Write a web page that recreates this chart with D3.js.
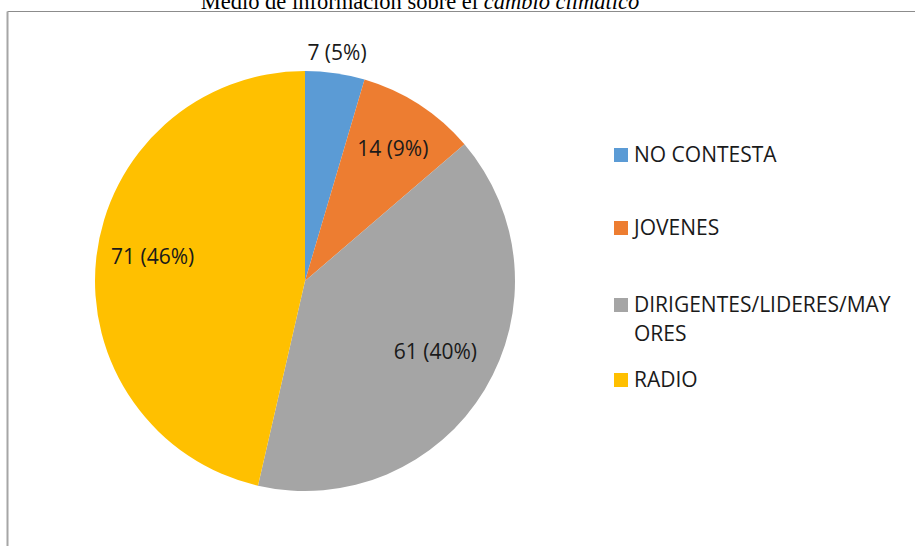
<!DOCTYPE html>
<html>
<head>
<meta charset="utf-8">
<script src="https://cdn.jsdelivr.net/npm/d3@7"></script>
<style>
  body { margin: 0; background: #fff; }
  svg { display: block; }
</style>
</head>
<body>
<div id="chart"></div>
<script>
// chart size
var width = 915;
var height = 546;

// data
var categories = ["NO CONTESTA", "JOVENES", "DIRIGENTES/LIDERES/MAYORES", "RADIO"];
var counts = [7, 14, 61, 71];
var percents = ["5%", "9%", "40%", "46%"];
var colors = ["#5b9bd5", "#ed7d31", "#a5a5a5", "#ffc000"];

var svg = d3.select("#chart")
  .append("svg")
  .attr("width", width)
  .attr("height", height);

// frame (top and left edges only are visible)
svg.append("line")
  .attr("x1", 7.5).attr("y1", 11.5).attr("x2", width).attr("y2", 11.5)
  .attr("stroke", "#8c8c8c").attr("stroke-width", 1);
svg.append("line")
  .attr("x1", 7.5).attr("y1", 11.5).attr("x2", 7.5).attr("y2", height)
  .attr("stroke", "#a6a6a6").attr("stroke-width", 2);

// title, partly cut off at the top as in the original
var title = svg.append("text")
  .attr("x", 420)
  .attr("y", 9)
  .attr("text-anchor", "middle")
  .attr("font-family", "Liberation Serif, serif")
  .attr("font-size", 22.5)
  .attr("fill", "#000");
title.append("tspan").text("Medio de información sobre el ");
title.append("tspan").attr("font-style", "italic").text("cambio climático");

// pie
var cx = 305, cy = 281, radius = 210;
var pie = d3.pie().sort(null).value(function(d) { return d; });
var arcs = pie(counts);
var arc = d3.arc().innerRadius(0).outerRadius(radius);

var g = svg.append("g").attr("transform", "translate(" + cx + "," + cy + ")");

g.selectAll("path")
  .data(arcs)
  .enter()
  .append("path")
  .attr("d", arc)
  .attr("fill", function(d, i) { return colors[i]; });

// data labels: radius factor along the slice bisector, plus a nudge
var labelPos = [
  {r: 1.08, dx: 0, dy: -1},
  {r: 0.62, dx: 17, dy: -24},
  {r: 0.72, dx: 1, dy: -8},
  {r: 0.73, dx: 0, dy: -8}
];
g.selectAll("text.lbl")
  .data(arcs)
  .enter()
  .append("text")
  .attr("class", "lbl")
  .text(function(d, i) { return counts[i] + " (" + percents[i] + ")"; })
  .attr("font-family", "Open Sans, sans-serif")
  .attr("font-size", 21)
  .attr("fill", "#1a1a1a")
  .attr("text-anchor", "middle")
  .attr("dominant-baseline", "central")
  .attr("transform", function(d, i) {
    var a = (d.startAngle + d.endAngle) / 2;
    var r = radius * labelPos[i].r;
    var x = Math.sin(a) * r + labelPos[i].dx;
    var y = -Math.cos(a) * r + labelPos[i].dy;
    if (i === 0) { x = 32; y = -229; }
    return "translate(" + x + "," + y + ")";
  });

// legend
var legendRows = [
  {lines: ["NO CONTESTA"], y: 155},
  {lines: ["JOVENES"], y: 228},
  {lines: ["DIRIGENTES/LIDERES/MAY", "ORES"], y: 305},
  {lines: ["RADIO"], y: 380}
];
var legend = svg.selectAll("g.legend")
  .data(legendRows)
  .enter()
  .append("g")
  .attr("class", "legend")
  .attr("transform", function(d) { return "translate(614," + d.y + ")"; });

legend.append("rect")
  .attr("x", 0)
  .attr("y", -7)
  .attr("width", 14)
  .attr("height", 14)
  .attr("fill", function(d, i) { return colors[i]; });

legend.append("text")
  .attr("font-family", "Open Sans, sans-serif")
  .attr("font-size", 21)
  .attr("fill", "#1a1a1a")
  .selectAll("tspan")
  .data(function(d) { return d.lines; })
  .enter()
  .append("tspan")
  .attr("x", 20)
  .attr("y", function(d, i) { return 7 + i * 29; })
  .text(function(d) { return d; });
</script>
</body>
</html>
